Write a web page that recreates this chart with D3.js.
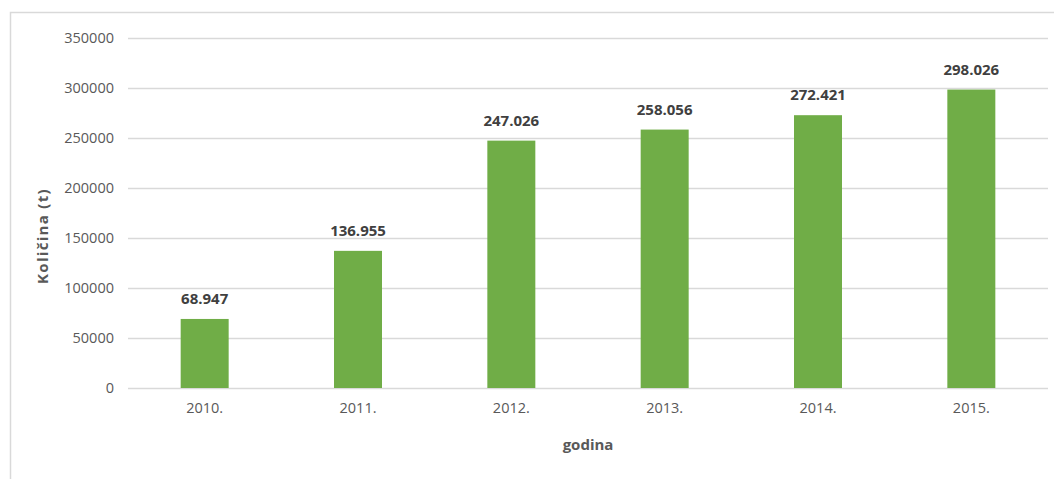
<!DOCTYPE html>
<html>
<head>
<meta charset="utf-8">
<script src="https://cdn.jsdelivr.net/npm/d3@7"></script>
<style>
  body { margin: 0; background: #fff; }
  svg { display: block; font-family: "Open Sans", "Liberation Sans", sans-serif; }
</style>
</head>
<body>
<div id="container"></div>
<script>
const years = ['2010.', '2011.', '2012.', '2013.', '2014.', '2015.'];
const amounts = [68947, 136955, 247026, 258056, 272421, 298026];
const valueLabels = ['68.947', '136.955', '247.026', '258.056', '272.421', '298.026'];
const yTicks = [0, 50000, 100000, 150000, 200000, 250000, 300000, 350000];

const width = 1054;
const height = 479;

const svg = d3
  .select('#container')
  .append('svg')
  .attr('width', width)
  .attr('height', height);

// chart frame (only left and top edges are visible in the crop)
svg.append('path')
  .attr('d', `M10.5,${height} V12.5 H${width}`)
  .attr('fill', 'none')
  .attr('stroke', '#d9d9d9')
  .attr('stroke-width', 1.5);

const x = d3
  .scaleBand()
  .domain(years)
  .range([128, 1048])
  .paddingInner(0.687)
  .paddingOuter(0.3435);

const y = d3.scaleLinear().domain([0, 350000]).range([388, 37.5]);

// gridlines
svg.append('g')
  .selectAll('line')
  .data(yTicks)
  .enter()
  .append('line')
  .attr('x1', 128)
  .attr('x2', 1048)
  .attr('y1', d => Math.round(y(d)) + 0.5)
  .attr('y2', d => Math.round(y(d)) + 0.5)
  .attr('stroke', '#d9d9d9')
  .attr('stroke-width', 1.3);

// y axis labels
const yAxis = svg.append('g')
  .attr('transform', 'translate(114,0)')
  .call(d3.axisLeft(y).tickValues(yTicks).tickSize(0).tickPadding(0).tickFormat(d => d));
yAxis.select('.domain').remove();
yAxis.selectAll('text')
  .attr('fill', '#595959')
  .attr('font-size', '14.5px')
  .attr('font-family', '"Open Sans", sans-serif');

// bars
svg.append('g')
  .selectAll('rect')
  .data(amounts)
  .enter()
  .append('rect')
  .attr('x', (d, i) => x(years[i]))
  .attr('y', d => y(d))
  .attr('width', x.bandwidth())
  .attr('height', d => y(0) - y(d))
  .attr('fill', '#70ad47');

// value labels
svg.append('g')
  .selectAll('text')
  .data(amounts)
  .enter()
  .append('text')
  .attr('x', (d, i) => x(years[i]) + x.bandwidth() / 2)
  .attr('y', d => y(d) - 15)
  .attr('text-anchor', 'middle')
  .attr('font-size', '15px')
  .attr('font-weight', 'bold')
  .attr('fill', '#404040')
  .text((d, i) => valueLabels[i]);

// x axis labels
const xAxis = svg.append('g')
  .attr('transform', 'translate(0,388)')
  .call(d3.axisBottom(x).tickSize(0).tickPadding(15));
xAxis.select('.domain').remove();
xAxis.selectAll('text')
  .attr('fill', '#595959')
  .attr('font-size', '14.5px')
  .attr('font-family', '"Open Sans", sans-serif');

// axis titles
svg.append('text')
  .attr('x', 588)
  .attr('y', 450)
  .attr('text-anchor', 'middle')
  .attr('font-size', '15px')
  .attr('font-weight', 'bold')
  .attr('fill', '#595959')
  .text('godina');

svg.append('text')
  .attr('transform', 'translate(43,236) rotate(-90)')
  .attr('dy', '0.35em')
  .attr('text-anchor', 'middle')
  .attr('font-size', '15px')
  .attr('font-weight', 'bold')
  .attr('letter-spacing', '1.3px')
  .attr('fill', '#595959')
  .text('Količina (t)');
</script>
</body>
</html>
